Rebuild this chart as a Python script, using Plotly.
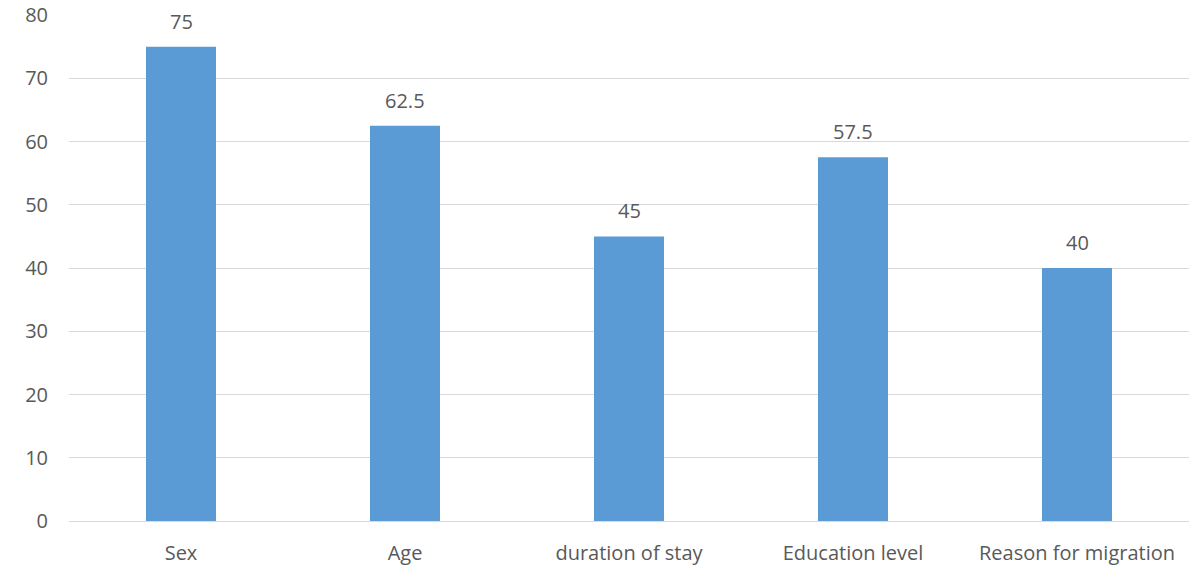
import plotly.graph_objects as go

# Share of respondents by factor
categories = ["Sex", "Age", "duration of stay", "Education level", "Reason for migration"]
values = [75, 62.5, 45, 57.5, 40]
value_labels = ["75", "62.5", "45", "57.5", "40"]
y_ticks = [0, 10, 20, 30, 40, 50, 60, 70, 80]

BAR_COLOR = "#5B9BD5"
TEXT_COLOR = "#595959"
GRID_COLOR = "#D9D9D9"
FONT = "Open Sans"

fig = go.Figure(
    go.Bar(
        x=categories,
        y=values,
        marker=dict(color=BAR_COLOR, line=dict(width=0)),
        hoverinfo="x+y",
    )
)

# Value labels sitting above each bar
for cat, val, lab in zip(categories, values, value_labels):
    fig.add_annotation(
        x=cat, y=val, text=lab, showarrow=False,
        yanchor="bottom", yshift=10,
        font=dict(family=FONT, size=20, color=TEXT_COLOR),
    )

fig.update_layout(
    width=1202, height=567,
    margin=dict(l=69, r=13, t=15, b=46),
    paper_bgcolor="white", plot_bgcolor="white",
    bargap=0.6875,
    showlegend=False,
    font=dict(family=FONT, size=20, color=TEXT_COLOR),
)
fig.update_xaxes(
    automargin=False,
    showgrid=False, showline=False, zeroline=False,
    ticks="", ticklabelstandoff=18,
    tickfont=dict(family=FONT, size=20, color=TEXT_COLOR),
)
fig.update_yaxes(
    automargin=False,
    range=[0, 80], tickvals=y_ticks,
    showgrid=True, gridcolor=GRID_COLOR, gridwidth=1,
    zeroline=True, zerolinecolor=GRID_COLOR, zerolinewidth=1,
    showline=False, ticks="", ticklabelstandoff=20,
    tickfont=dict(family=FONT, size=20, color=TEXT_COLOR),
)

fig.write_html("out.html")
